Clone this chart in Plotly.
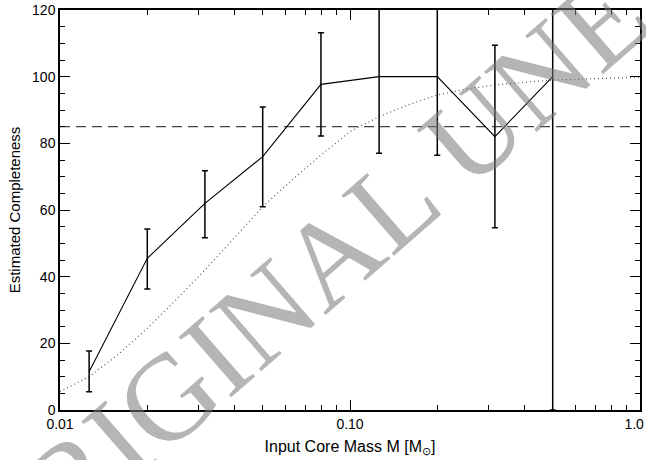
import plotly.graph_objects as go

# ---- data ----
core_mass = [0.0126, 0.02, 0.0316, 0.05, 0.0794, 0.126, 0.2, 0.316, 0.5]
completeness = [11.5, 45.5, 62.0, 76.0, 97.7, 100.0, 100.0, 82.0, 100.0]
err_plus = [6.2, 8.8, 9.8, 14.9, 15.5, 23.0, 23.0, 27.4, 100.0]
err_minus = [6.0, 9.2, 10.3, 15.0, 15.5, 23.0, 23.6, 27.3, 100.0]

model_mass = [0.01, 0.0126, 0.0158, 0.02, 0.0251, 0.0316, 0.0398, 0.05, 0.0631,
              0.0794, 0.1, 0.126, 0.158, 0.2, 0.251, 0.316, 0.398, 0.5, 0.631,
              0.794, 1.0]
model_completeness = [5.5, 10.0, 16.5, 24.5, 33.0, 42.0, 51.5, 61.0, 69.0,
                      76.5, 83.5, 88.0, 91.5, 94.5, 96.3, 97.5, 98.3, 99.0,
                      99.3, 99.6, 99.8]

threshold_x = [0.01, 1.0]
threshold_y = [85, 85]

x_tickvals = [0.01, 0.1, 1.0]
x_ticktext = ["0.01", "0.10", "1.0&#160;&#160;&#160;"]
x_minor = [0.02, 0.03, 0.04, 0.05, 0.06, 0.07, 0.08, 0.09,
           0.2, 0.3, 0.4, 0.5, 0.6, 0.7, 0.8, 0.9]

watermark = "ORIGINAL UNEDITED"

# ---- figure ----
W, H = 646, 460
ml, mr, mt, mb = 60, 6, 10, 50
pw, ph = W - ml - mr, H - mt - mb

fig = go.Figure()

fig.add_trace(go.Scatter(
    x=model_mass, y=model_completeness, mode="lines",
    line=dict(color="#555555", width=1.2, dash="1px,3px"),
    hoverinfo="skip", showlegend=False))

fig.add_trace(go.Scatter(
    x=threshold_x, y=threshold_y, mode="lines",
    line=dict(color="#444444", width=1.3, dash="10px,6px"),
    hoverinfo="skip", showlegend=False))

fig.add_trace(go.Scatter(
    x=core_mass, y=completeness, mode="lines",
    line=dict(color="black", width=1.1),
    error_y=dict(type="data", symmetric=False, array=err_plus,
                 arrayminus=err_minus, color="black", thickness=1.5, width=3),
    showlegend=False))

font = dict(family="Liberation Sans, Arial, sans-serif", size=14, color="black")

fig.update_layout(
    width=W, height=H,
    margin=dict(l=ml, r=mr, t=mt, b=mb, autoexpand=False),
    paper_bgcolor="white", plot_bgcolor="white",
    font=font,
    xaxis=dict(
        type="log", range=[-2, 0], automargin=False,
        tickvals=x_tickvals, ticktext=x_ticktext,
        ticklabeloverflow="allow",
        ticks="inside", ticklen=10, tickwidth=1, tickcolor="black",
        showline=True, linecolor="black", linewidth=1.5, mirror="ticks",
        showgrid=False, zeroline=False,
        minor=dict(tickvals=x_minor, ticks="inside", ticklen=5,
                   tickcolor="black", tickwidth=1, showgrid=False),
        title=dict(text="Input Core Mass M [M<sub>⊙</sub>]", standoff=10,
                   font=dict(size=16)),
    ),
    yaxis=dict(
        range=[0, 120], dtick=20, automargin=False,
        ticks="inside", ticklen=10, tickwidth=1, tickcolor="black",
        showline=True, linecolor="black", linewidth=1.5, mirror="ticks",
        showgrid=False, zeroline=False,
        minor=dict(dtick=5, ticks="inside", ticklen=5, tickcolor="black",
                   tickwidth=1, showgrid=False),
        title=dict(text="Estimated Completeness", standoff=8,
                   font=dict(size=15)),
    ),
)

# watermark centre in pixels -> paper coordinates
cx, cy = 440, 160
fig.add_annotation(
    text=watermark, showarrow=False,
    xref="paper", yref="paper",
    x=(cx - ml) / pw, y=1 - (cy - mt) / ph,
    xanchor="center", yanchor="middle",
    textangle=-41,
    font=dict(family="Liberation Serif, Times New Roman, serif", size=122,
              color="rgba(120,120,120,0.55)"),
)

fig.write_html("out.html")
